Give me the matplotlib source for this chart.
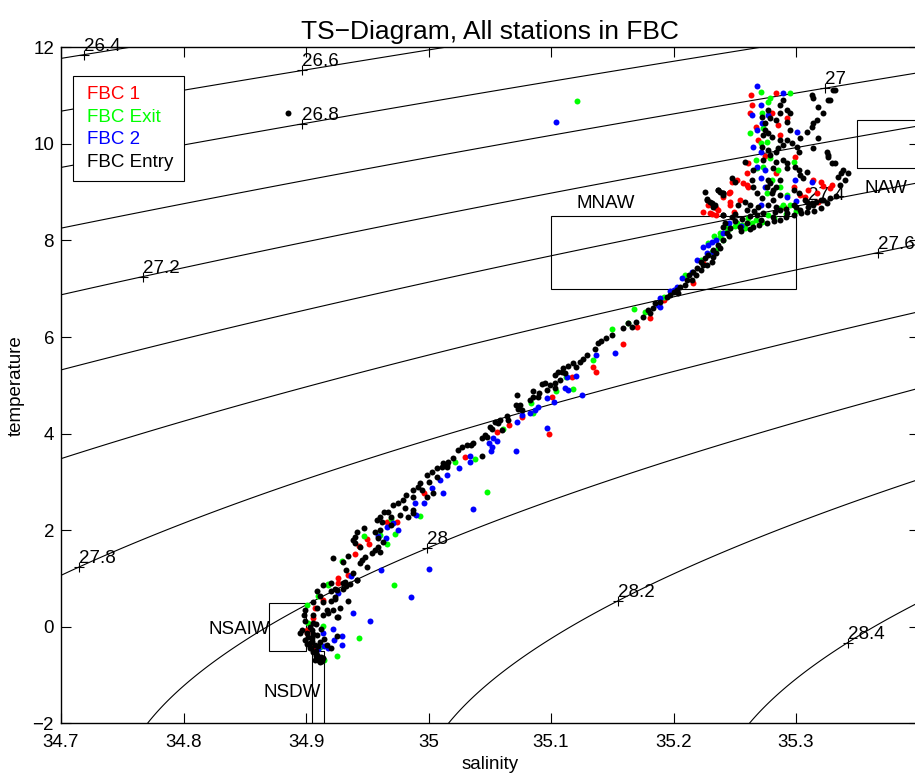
import numpy as np
import matplotlib
matplotlib.use("Agg")
import matplotlib.pyplot as plt
from matplotlib.patches import Rectangle
from matplotlib.lines import Line2D

plt.rcParams['font.family'] = ['Liberation Sans', 'DejaVu Sans']

# station data (salinity, temperature)
fbc1 = [  # red
    (34.926, 0.91), (34.914, 0.56), (34.907, 0.39), (34.901, -0.12), (34.906, -0.41), (34.926, 1.01),
    (34.906, 0.19), (34.901, -0.06), (34.996, 2.77), (34.974, 2.17), (34.966, 2.17), (34.950, 1.82),
    (34.951, 1.72), (34.943, 1.68), (34.940, 1.51), (34.934, 1.08),
    (35.030, 3.52), (35.056, 4.03), (35.066, 4.17), (35.076, 4.34), (35.098, 3.99), (35.101, 4.76),
    (35.117, 5.18), (35.134, 5.38), (35.137, 5.28), (35.159, 5.86), (35.170, 6.21), (35.181, 6.39),
    (35.192, 6.77), (35.216, 7.12), (35.224, 7.53),
    (35.224, 8.59), (35.231, 8.54), (35.235, 8.52), (35.228, 8.74), (35.236, 8.63), (35.245, 8.98),
    (35.246, 8.80), (35.252, 9.25), (35.260, 9.15), (35.248, 9.21),
    (35.263, 11.01), (35.284, 11.05), (35.264, 10.80), (35.280, 10.64), (35.262, 10.64), (35.285, 10.39),
    (35.267, 10.35), (35.269, 10.08), (35.293, 10.53), (35.287, 10.18), (35.261, 9.60), (35.275, 9.75),
    (35.299, 9.73), (35.260, 9.39), (35.284, 9.39), (35.257, 9.19), (35.261, 9.11), (35.246, 9.01),
    (35.254, 8.84), (35.246, 8.74), (35.240, 8.90), (35.235, 8.67), (35.230, 8.57), (35.249, 8.59),
    (35.314, 9.25), (35.320, 9.21), (35.322, 9.13), (35.328, 9.08), (35.310, 9.05), (35.298, 9.11),
    (35.307, 8.90), (35.317, 8.98), (35.329, 9.15), (35.303, 8.95), (35.290, 8.70), (35.318, 8.80),
]
fbc_exit = [  # green
    (34.918, 0.89), (34.910, 0.64), (34.901, 0.46), (34.972, 0.87), (34.914, 0.02), (34.943, -0.23),
    (34.911, -0.41), (34.925, -0.60), (34.915, -0.68), (34.902, 0.08), (34.993, 2.29), (34.969, 2.23),
    (34.973, 1.92), (34.947, 1.88), (34.960, 1.90), (34.966, 1.72), (34.929, 1.36), (34.918, 0.87),
    (35.048, 2.80),
    (35.022, 3.42), (35.038, 3.48), (35.061, 4.10), (35.084, 4.63), (35.085, 4.42), (35.104, 4.88),
    (35.112, 5.18), (35.118, 4.93), (35.134, 5.52), (35.150, 6.16), (35.163, 6.29), (35.168, 6.58),
    (35.177, 6.52), (35.192, 6.83), (35.199, 6.93), (35.209, 7.28), (35.222, 7.60), (35.231, 7.76),
    (35.238, 8.07), (35.240, 8.01),
    (35.238, 8.16), (35.246, 8.26), (35.256, 8.32), (35.267, 8.43), (35.277, 8.53), (35.287, 8.67),
    (35.295, 8.74), (35.261, 8.46), (35.250, 8.30), (35.272, 8.38),
    (35.244, 8.20), (35.252, 8.36), (35.258, 8.26), (35.264, 8.36), (35.282, 8.47), (35.292, 8.55),
    (35.300, 8.62), (35.233, 8.10), (35.228, 7.95), (35.236, 7.85), (35.242, 8.30),
    (35.121, 10.89),
    (35.271, 11.07), (35.279, 10.95), (35.295, 11.05), (35.277, 10.87), (35.272, 10.64), (35.262, 10.23),
    (35.273, 10.33), (35.271, 10.02), (35.276, 10.04), (35.267, 9.67), (35.279, 9.71), (35.268, 9.50),
    (35.273, 9.52), (35.285, 9.46), (35.298, 9.63), (35.280, 9.25), (35.287, 9.11), (35.276, 8.98),
    (35.293, 8.94), (35.289, 8.74),
]
fbc2 = [  # blue
    (34.926, 0.70), (34.986, 0.62), (34.938, 0.29), (34.952, 0.11), (34.922, -0.04), (34.914, -0.12),
    (34.929, -0.19), (34.923, -0.27), (34.929, -0.37), (34.915, -0.39), (34.918, -0.44), (34.910, -0.46),
    (34.961, 1.17), (35.000, 1.19), (34.937, 1.06),
    (35.009, 3.04), (35.012, 2.77), (35.003, 2.88), (34.996, 2.56), (34.989, 2.56), (34.990, 2.31),
    (34.971, 2.15), (34.966, 2.07), (34.975, 2.00), (34.959, 1.88), (34.965, 1.84), (35.015, 3.14),
    (35.036, 2.44),
    (35.025, 3.29), (35.034, 3.54), (35.034, 3.42), (35.051, 3.64), (35.071, 3.64), (35.053, 3.91),
    (35.049, 3.81), (35.052, 3.72), (35.056, 3.85), (35.072, 4.24), (35.076, 4.38), (35.083, 4.42),
    (35.087, 4.49), (35.089, 4.55), (35.097, 4.74), (35.102, 4.65), (35.097, 4.12), (35.114, 4.90),
    (35.111, 4.94), (35.125, 4.80), (35.113, 5.18), (35.120, 5.20), (35.137, 5.63), (35.152, 5.67),
    (35.189, 6.62), (35.187, 6.66), (35.189, 6.81), (35.197, 6.96), (35.200, 6.98), (35.203, 7.04),
    (35.207, 7.22), (35.215, 7.35), (35.219, 7.60), (35.227, 7.74), (35.232, 7.76), (35.224, 7.87),
    (35.228, 7.91), (35.231, 7.97), (35.235, 8.01), (35.240, 8.16), (35.255, 8.30), (35.300, 8.82),
    (35.104, 10.45),
    (35.268, 11.20), (35.289, 11.05), (35.271, 10.80), (35.264, 10.60), (35.277, 10.60), (35.272, 10.43),
    (35.301, 10.25), (35.268, 10.29), (35.265, 9.94), (35.271, 9.83), (35.268, 9.52), (35.275, 9.46),
    (35.271, 9.29), (35.299, 9.25), (35.313, 9.21), (35.275, 9.11), (35.293, 8.90), (35.245, 8.36),
    (35.271, 8.74),
]
fbc_entry = [  # black
    (34.914, 0.87), (34.920, 0.91), (34.930, 0.91), (34.936, 0.89), (34.942, 0.97), (34.909, 0.73),
    (34.911, 0.64), (34.920, 0.73), (34.924, 0.79), (34.930, 0.79), (34.934, 0.54), (34.906, 0.52),
    (34.914, 0.52), (34.920, 0.54), (34.924, 0.58), (34.899, 0.35), (34.909, 0.39), (34.917, 0.35),
    (34.922, 0.35), (34.928, 0.39), (34.898, 0.25), (34.906, 0.25), (34.914, 0.25), (34.918, 0.29),
    (34.925, 0.21), (34.899, 0.11), (34.906, 0.08), (34.897, -0.06), (34.901, -0.12), (34.905, -0.06),
    (34.909, -0.17), (34.925, -0.19), (34.899, -0.27), (34.903, -0.33), (34.907, -0.37), (34.903, -0.44),
    (34.906, -0.52), (34.909, -0.58), (34.910, -0.68), (34.911, -0.74), (34.907, -0.68), (34.914, -0.64),
    (34.920, -0.44), (34.902, -0.21), (34.895, -0.12), (34.905, -0.23), (34.911, -0.31), (34.917, -0.37),
    (34.926, 0.21), (34.904, -0.45), (34.908, -0.50), (34.912, -0.62), (34.913, -0.70), (34.908, -0.60),
    (34.905, -0.30), (34.901, -0.35), (34.903, 0.00), (34.908, 0.05), (34.912, -0.05), (34.915, -0.25),
    (34.910, -0.40), (34.906, -0.15),
    (35.012, 3.39), (35.015, 3.31), (35.007, 3.29), (35.003, 3.21), (34.999, 3.14), (35.007, 3.10),
    (35.000, 3.00), (34.993, 2.98), (34.991, 2.90), (34.995, 2.83), (34.987, 2.83), (34.982, 2.73),
    (34.987, 2.69), (34.999, 2.69), (35.004, 2.77), (34.979, 2.63), (34.975, 2.56), (34.971, 2.52),
    (34.981, 2.46), (34.987, 2.42), (34.987, 2.36), (34.983, 2.27), (34.967, 2.38), (34.964, 2.38),
    (34.960, 2.27), (34.958, 2.21), (34.969, 2.27), (34.977, 2.31), (34.962, 2.17), (34.947, 2.04),
    (34.942, 1.96), (34.940, 1.86), (34.938, 1.80), (34.940, 1.73), (34.944, 1.65), (34.956, 1.96),
    (34.960, 2.00), (34.969, 2.11), (34.959, 1.84), (34.963, 1.76), (34.959, 1.65), (34.956, 1.59),
    (34.954, 1.53), (34.960, 1.55), (34.948, 1.44), (34.946, 1.38), (34.950, 1.24), (34.944, 1.32),
    (34.934, 1.46), (34.930, 1.34), (34.922, 1.43), (34.933, 1.17), (34.938, 1.11), (34.942, 0.97),
    (34.932, 0.92), (34.933, 0.85), (34.925, 0.77), (34.924, 0.62),
    (35.138, 5.87), (35.136, 5.75), (35.129, 5.63), (35.126, 5.54), (35.124, 5.48), (35.118, 5.46),
    (35.120, 5.38), (35.114, 5.40), (35.110, 5.36), (35.111, 5.25), (35.106, 5.28), (35.103, 5.22),
    (35.107, 5.11), (35.103, 5.05), (35.099, 5.01), (35.103, 4.94), (35.097, 4.90), (35.093, 5.03),
    (35.090, 4.84), (35.085, 4.76), (35.089, 4.76), (35.083, 4.70), (35.085, 4.88), (35.075, 4.59),
    (35.076, 4.49), (35.071, 4.59), (35.073, 4.51), (35.064, 4.37), (35.065, 4.28), (35.058, 4.28),
    (35.054, 4.24), (35.057, 4.22), (35.050, 4.14), (35.052, 4.10), (35.046, 3.97), (35.048, 3.93),
    (35.044, 3.91), (35.036, 3.81), (35.035, 3.77), (35.031, 3.77), (35.027, 3.72), (35.024, 3.66),
    (35.044, 3.54), (35.020, 3.50), (35.016, 3.42), (35.011, 3.31), (35.015, 3.35), (35.072, 4.80),
    (35.095, 5.05), (35.109, 5.28), (35.060, 4.08),
    (35.242, 8.36), (35.240, 8.28), (35.244, 8.16), (35.240, 8.01), (35.236, 7.91), (35.232, 7.80),
    (35.228, 7.70), (35.226, 7.64), (35.222, 7.56), (35.224, 7.49), (35.219, 7.43), (35.216, 7.35),
    (35.213, 7.28), (35.215, 7.18), (35.211, 7.18), (35.209, 7.08), (35.205, 7.04), (35.203, 6.98),
    (35.204, 6.91), (35.200, 6.93), (35.197, 6.87), (35.195, 6.83), (35.189, 6.73), (35.185, 6.70),
    (35.183, 6.60), (35.179, 6.56), (35.181, 6.50), (35.175, 6.42), (35.169, 6.31), (35.163, 6.29),
    (35.166, 6.21), (35.159, 6.18), (35.232, 7.66), (35.235, 7.74), (35.238, 7.84), (35.231, 7.56),
    (35.227, 7.49), (35.222, 7.39), (35.218, 7.28), (35.150, 6.05), (35.145, 5.98), (35.141, 5.92),
    (35.226, 9.00), (35.238, 9.00), (35.234, 8.74), (35.240, 8.52), (35.240, 8.94), (35.227, 8.84),
    (35.231, 8.77), (35.236, 9.05), (35.240, 8.98), (35.253, 8.74), (35.258, 8.80),
    (35.332, 11.11), (35.314, 10.95), (35.313, 11.01), (35.326, 10.91), (35.322, 10.64), (35.317, 10.49),
    (35.314, 10.43), (35.313, 10.35), (35.309, 10.25), (35.295, 10.29), (35.293, 10.08), (35.297, 10.02),
    (35.301, 9.94), (35.302, 9.83), (35.314, 9.91), (35.325, 9.83), (35.326, 9.73), (35.329, 9.60),
    (35.332, 9.60), (35.338, 9.46), (35.342, 9.39), (35.340, 9.25), (35.336, 9.15),
    (35.287, 10.80), (35.293, 10.70), (35.295, 10.64), (35.293, 10.45), (35.284, 10.49), (35.279, 10.53),
    (35.289, 10.91), (35.287, 10.64), (35.277, 10.23), (35.280, 10.14), (35.287, 10.08), (35.289, 9.98),
    (35.285, 9.91), (35.284, 9.83), (35.273, 10.18), (35.272, 9.94), (35.277, 9.87), (35.279, 9.77),
    (35.273, 9.67), (35.284, 9.63), (35.289, 9.67), (35.293, 9.60), (35.293, 9.50), (35.281, 9.50),
    (35.299, 9.52), (35.302, 9.46), (35.303, 9.36), (35.306, 9.29), (35.309, 9.42), (35.287, 9.25),
    (35.284, 9.11), (35.277, 9.25), (35.276, 9.11), (35.280, 8.98), (35.287, 8.94), (35.281, 8.84),
    (35.277, 8.74), (35.298, 9.05), (35.302, 8.98), (35.307, 8.84), (35.313, 8.77), (35.320, 8.84),
    (35.258, 9.63), (35.265, 9.46), (35.248, 9.29), (35.250, 9.21), (35.236, 9.05), (35.240, 8.98),
    (35.227, 8.86), (35.230, 8.80), (35.232, 8.69), (35.262, 8.74), (35.240, 8.53), (35.248, 8.49),
    (35.264, 9.25), (35.265, 9.11), (35.268, 8.98), (35.272, 8.88), (35.260, 8.63), (35.269, 8.69),
    (35.277, 10.70), (35.272, 10.56), (35.275, 10.43), (35.275, 10.29),
    (35.260, 8.36), (35.271, 8.43), (35.281, 8.49), (35.293, 8.57), (35.303, 8.63), (35.314, 8.74),
    (35.322, 8.84), (35.273, 8.57), (35.287, 8.63), (35.298, 8.74), (35.309, 8.80), (35.254, 8.28),
    (35.246, 8.26), (35.265, 8.28), (35.276, 8.36), (35.287, 8.43), (35.298, 8.53), (35.309, 8.59),
    (35.320, 8.67), (35.325, 8.77), (35.279, 9.19), (35.281, 9.05),
    (35.250, 8.40), (35.256, 8.45), (35.262, 8.50), (35.268, 8.52), (35.283, 8.60), (35.292, 8.66),
    (35.300, 8.70), (35.310, 8.70), (35.316, 8.80), (35.328, 8.88), (35.333, 8.92), (35.255, 8.20),
    (35.262, 8.24), (35.270, 8.32), (35.282, 8.40), (35.292, 8.48), (35.304, 8.56), (35.315, 8.62),
    (35.245, 8.10), (35.250, 8.55), (35.266, 8.62), (35.284, 8.70),
    (35.318, 10.76), (35.328, 10.91), (35.330, 11.12), (35.303, 10.12), (35.318, 10.12), (35.326, 9.77),
    (35.337, 9.40), (35.334, 9.31),
    (34.885, 10.64),
]

series_names = ["FBC 1", "FBC Exit", "FBC 2", "FBC Entry"]
series_colors = ["#ff0000", "#00ff00", "#0000ff", "#000000"]

# density contours and where their labels sit (salinity of the label)
sigma_levels = [26.4, 26.6, 26.8, 27.0, 27.2, 27.4, 27.6, 27.8, 28.0, 28.2, 28.4]
label_sal = [34.719, 34.897, 34.897, 35.324, 34.767, 35.310, 35.367, 34.715, 34.999, 35.155, 35.342]

# water mass boxes: name, S min, S max, T min, T max, label S, label T
masses = ["MNAW", "NAW", "NSAIW", "NSDW"]
mass_smin = [35.10, 35.35, 34.87, 34.905]
mass_smax = [35.30, 35.45, 34.90, 34.915]
mass_tmin = [7.0, 9.5, -0.5, -2.0]
mass_tmax = [8.5, 10.5, 0.5, -0.5]
mass_lab_s = [35.121, 35.356, 34.820, 34.865]
mass_lab_t = [8.67, 8.98, -0.15, -1.45]


def dens0(S, T):
    # UNESCO 1983 density of seawater at surface pressure
    rw = (999.842594 + 6.793952e-2 * T - 9.095290e-3 * T**2 + 1.001685e-4 * T**3
          - 1.120083e-6 * T**4 + 6.536332e-9 * T**5)
    A = 8.24493e-1 - 4.0899e-3 * T + 7.6438e-5 * T**2 - 8.2467e-7 * T**3 + 5.3875e-9 * T**4
    B = -5.72466e-3 + 1.0227e-4 * T - 1.6546e-6 * T**2
    C = 4.8314e-4
    return rw + A * S + B * S**1.5 + C * S**2


fig = plt.figure(figsize=(9.15, 7.76), dpi=100)
ax = fig.add_axes([0.0667, 0.0679, 0.9372, 0.8711])

# isopycnals
sg, tg = np.meshgrid(np.linspace(34.65, 35.5, 400), np.linspace(-2.5, 12.5, 400))
ax.contour(sg, tg, dens0(sg, tg) - 1000, levels=sigma_levels, colors='k', linewidths=0.8, zorder=1)

tfine = np.linspace(-3, 14, 3000)
for lev, s in zip(sigma_levels, label_sal):
    sig = dens0(s, tfine) - 1000
    t = np.interp(lev, sig[::-1], tfine[::-1])
    ax.plot(s, t, '+', color='k', ms=7, mew=0.8, zorder=1)
    ax.text(s, t, f"{lev:g}", fontsize=13.5, ha='left', va='bottom', zorder=1)

# water mass boxes
for name, s0, s1, t0, t1, ls, lt in zip(masses, mass_smin, mass_smax, mass_tmin, mass_tmax,
                                        mass_lab_s, mass_lab_t):
    ax.add_patch(Rectangle((s0, t0), s1 - s0, t1 - t0, fill=False, edgecolor='k', lw=0.8, zorder=1))
    ax.text(ls, lt, name, fontsize=13.5, ha='left', va='baseline', zorder=1)

# stations
for data, c in zip([fbc1, fbc_exit, fbc2, fbc_entry], series_colors):
    d = np.array(data)
    ax.plot(d[:, 0], d[:, 1], 'o', color=c, ms=4.3, mec='none', zorder=3)

ax.set_xlim(34.7, 35.4)
ax.set_ylim(-2, 12)
ax.set_xticks([34.7, 34.8, 34.9, 35.0, 35.1, 35.2, 35.3])
ax.set_xticklabels(["34.7", "34.8", "34.9", "35", "35.1", "35.2", "35.3"])
ax.set_yticks([-2, 0, 2, 4, 6, 8, 10, 12])
ax.tick_params(direction='in', top=True, right=True, length=7, width=0.8, labelsize=13.5)
ax.tick_params(axis='x', pad=8)
ax.tick_params(axis='y', pad=5)
for sp in ax.spines.values():
    sp.set_linewidth(1.0)

ax.set_xlabel("salinity", fontsize=13.5, labelpad=3)
ax.set_ylabel("temperature", fontsize=13.5, labelpad=6)
ax.set_title("TS\u2212Diagram, All stations in FBC", fontsize=19, pad=6)

handles = [Line2D([], [], color=c, linestyle='none') for c in series_colors]
leg = ax.legend(handles, series_names, loc='upper left', bbox_to_anchor=(73 / 915, 1 - 76 / 776),
                bbox_transform=fig.transFigure, borderaxespad=0, fontsize=13.5,
                handlelength=0, handletextpad=0.2, labelspacing=0.28, borderpad=0.55,
                labelcolor='linecolor', fancybox=False, framealpha=1, edgecolor='k')
leg.get_frame().set_linewidth(0.8)

fig.savefig("out.png", dpi=100)
